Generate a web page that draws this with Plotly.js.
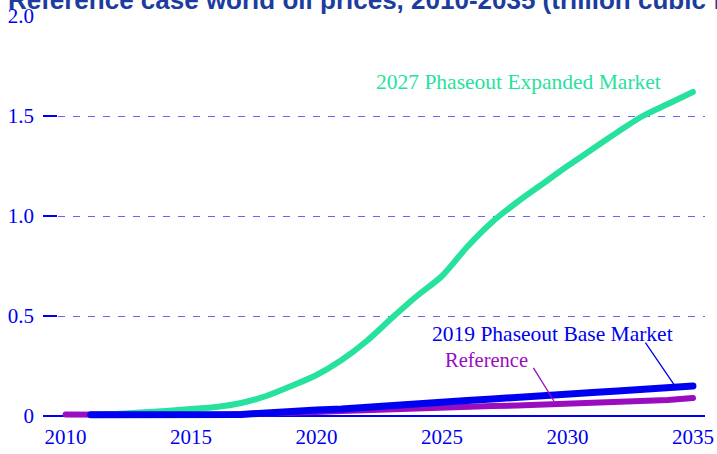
<!DOCTYPE html>
<html>
<head>
<meta charset="utf-8">
<script src="https://cdn.plot.ly/plotly-3.0.1.min.js"></script>
<style>
html,body{margin:0;padding:0;background:#fff;}
#chart{width:717px;height:454px;}
path.js-line{stroke-linecap:round !important;stroke-linejoin:round !important;}
</style>
</head>
<body>
<div id="chart"></div>
<script>
const years = [2010,2011,2012,2013,2014,2015,2016,2017,2018,2019,2020,2021,2022,2023,2024,2025,2026,2027,2028,2029,2030,2031,2032,2033,2034,2035];
const expandedYears = years.slice(1);
const expanded2027 = [0.005,0.01,0.017,0.025,0.035,0.045,0.065,0.10,0.15,0.205,0.28,0.375,0.49,0.60,0.70,0.845,0.97,1.07,1.16,1.25,1.335,1.42,1.50,1.56,1.62];
const reference = [0.008,0.006,0.005,0.005,0.005,0.005,0.006,0.008,0.012,0.016,0.02,0.025,0.03,0.035,0.04,0.042,0.045,0.05,0.052,0.056,0.06,0.065,0.07,0.075,0.08,0.09];
const baseYears = years.slice(1);
const base2019 = [0.006,0.006,0.006,0.006,0.006,0.006,0.008,0.015,0.025,0.03,0.035,0.045,0.055,0.065,0.07,0.077,0.085,0.095,0.105,0.11,0.117,0.125,0.133,0.14,0.15];
const yTickVals = [0,0.5,1.0,1.5,2.0];
const yTickText = ["0","0.5","1.0","1.5","2.0"];
const xTickVals = [2010,2015,2020,2025,2030,2035];

const GREEN = '#26e29c';
const BLUE = '#0000f0';
const PURPLE = '#9a0cbf';
const serif = '"Liberation Serif", "Times New Roman", serif';

const traces = [
  {x: expandedYears, y: expanded2027, type: 'scatter', mode: 'lines', line: {color: GREEN, width: 6, shape: 'spline', smoothing: 0.8}, hoverinfo: 'skip'},
  {x: years, y: reference, type: 'scatter', mode: 'lines', line: {color: PURPLE, width: 6}, hoverinfo: 'skip'},
  {x: baseYears, y: base2019, type: 'scatter', mode: 'lines', line: {color: BLUE, width: 7}, hoverinfo: 'skip'}
];

const layout = {
  width: 717, height: 454,
  margin: {l: 43, r: 12, t: 15, b: 32},
  paper_bgcolor: '#fff', plot_bgcolor: '#fff',
  showlegend: false,
  title: {
    text: 'Reference case world oil prices, 2010-2035 (trillion cubic feet)',
    font: {family: '"Liberation Sans", Arial, sans-serif', size: 26, color: '#1c3c9e', weight: 'bold'},
    xref: 'container', yref: 'container', x: 0.011, xanchor: 'left', y: 1.0, yanchor: 'middle'
  },
  xaxis: {
    range: [2009.1, 2035.48],
    tickvals: xTickVals,
    ticks: '', showgrid: false, showline: false, zeroline: false,
    tickfont: {family: serif, size: 21, color: BLUE}
  },
  yaxis: {
    range: [-0.03, 2.005],
    tickvals: yTickVals, ticktext: yTickText,
    ticks: 'inside', ticklen: 14, tickwidth: 1.5, tickcolor: BLUE,
    showgrid: true, gridcolor: '#6464ff', gridwidth: 1, griddash: '7px,8px',
    zeroline: true, zerolinecolor: BLUE, zerolinewidth: 1.5,
    showline: false,
    ticklabelstandoff: 8,
    tickfont: {family: serif, size: 21, color: BLUE}
  },
  annotations: [
    {x: 2028.06, y: 1.669, xref: 'x', yref: 'y', text: '2027 Phaseout Expanded Market', showarrow: false,
     font: {family: serif, size: 21.5, color: GREEN}},
    {x: 2029.42, y: 0.41, xref: 'x', yref: 'y', text: '2019 Phaseout Base Market', showarrow: false,
     font: {family: serif, size: 21.5, color: BLUE}},
    {x: 2026.79, y: 0.281, xref: 'x', yref: 'y', text: 'Reference', showarrow: false,
     font: {family: serif, size: 20.5, color: PURPLE}},
    {x: 2034.28, y: 0.151, xref: 'x', yref: 'y', text: ' ', showarrow: true, arrowhead: 0, arrowwidth: 1.3,
     arrowcolor: BLUE, ax: -30, ay: -44, borderpad: 0, font: {size: 1}},
    {x: 2029.46, y: 0.075, xref: 'x', yref: 'y', text: ' ', showarrow: true, arrowhead: 0, arrowwidth: 1.3,
     arrowcolor: PURPLE, ax: -21, ay: -34, borderpad: 0, font: {size: 1}}
  ]
};

Plotly.newPlot('chart', traces, layout, {staticPlot: true, displayModeBar: false});
</script>
</body>
</html>
